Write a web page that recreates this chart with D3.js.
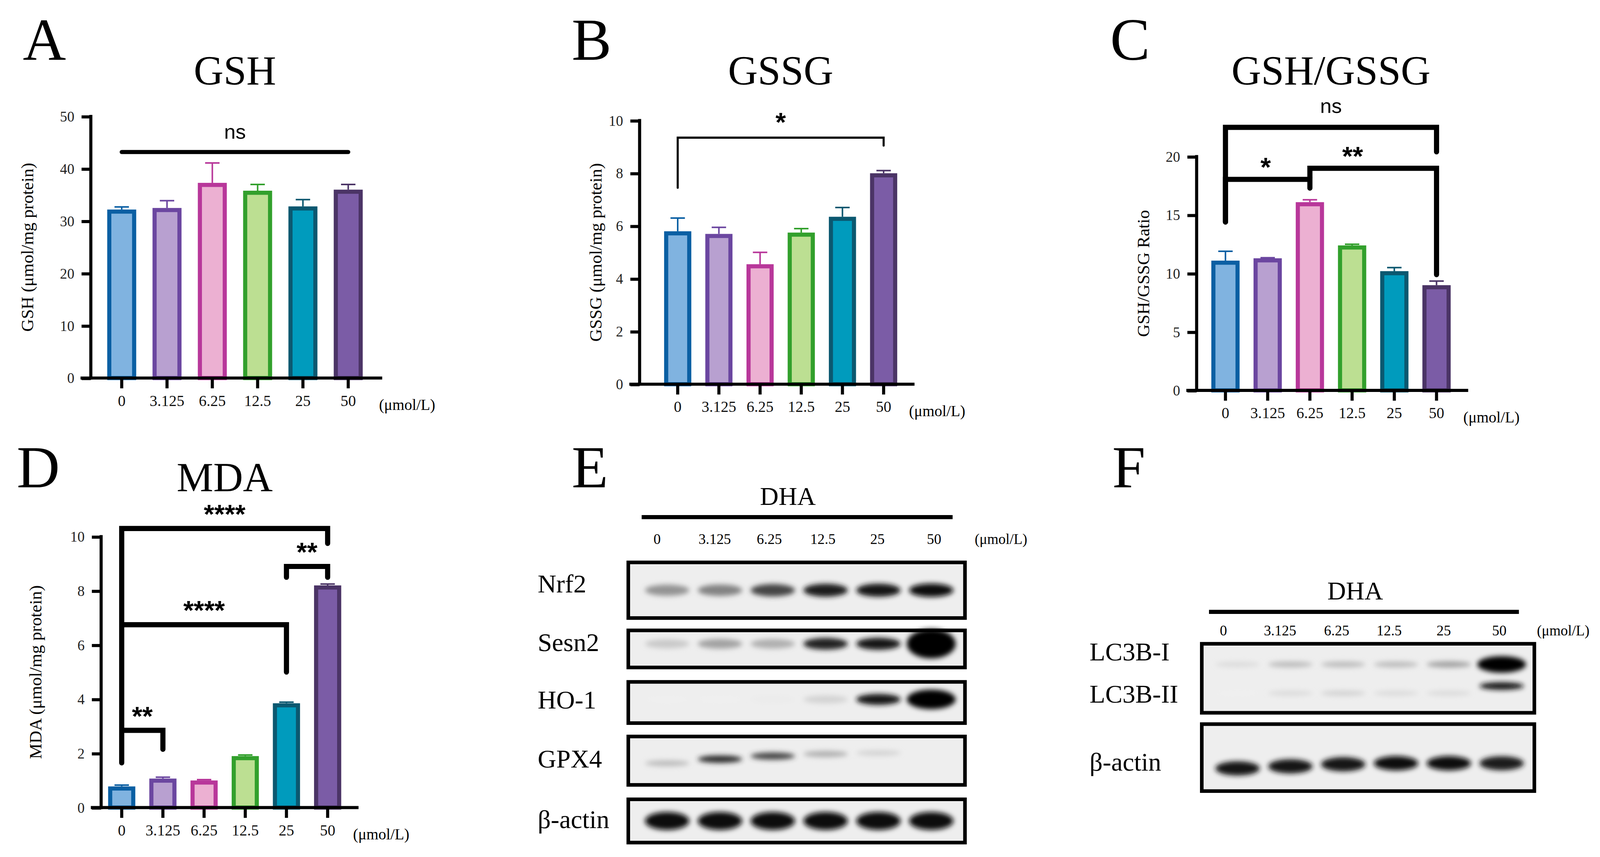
<!DOCTYPE html>
<html><head><meta charset="utf-8">
<script src="https://cdn.jsdelivr.net/npm/d3@7"></script>
<style>body{margin:0;background:#fff}svg{display:block}</style>
</head><body>
<script>
const categories = ["0","3.125","6.25","12.5","25","50"];
const gshValues = [32.2,32.5,37.3,35.8,32.8,36.0];
const gshErr = [0.5,1.4,3.8,1.2,1.3,1.0];
const gssgValues = [5.8,5.7,4.55,5.75,6.35,8.0];
const gssgErr = [0.5,0.25,0.45,0.15,0.35,0.1];
const ratioValues = [11.1,11.3,16.1,12.4,10.2,9.0];
const ratioErr = [0.8,0.05,0.2,0.1,0.3,0.35];
const mdaValues = [0.78,1.07,1.0,1.9,3.85,8.2];
const mdaErr = [0.05,0.05,0.03,0.04,0.04,0.05];
const fills = ["#80b3e0","#b8a0d0","#ecb0d2","#bcdf92","#009bbd","#7b5ca6"];
const strokes = ["#0a5fa3","#6b46a0","#b8379a","#32a02c","#0b5870","#4b3466"];
// blot intensities (0-1) per lane
const nrf2 = [0.6,0.65,0.8,0.9,0.92,0.97];
const sesn2 = [0.4,0.55,0.5,0.88,0.92,1.0];
const ho1 = [0.03,0.04,0.15,0.35,0.92,1.0];
const gpx4 = [0.45,0.85,0.8,0.5,0.35,0.06];
const actinE = [0.97,0.97,0.97,0.97,0.97,0.97];
const lc3I = [0.3,0.45,0.45,0.45,0.55,1.0];
const lc3II = [0.0,0.3,0.35,0.3,0.3,0.92];
const actinF = [0.92,0.92,0.92,0.94,0.94,0.9];

const W=1560,H=832;
const svg=d3.select("body").append("svg").attr("width",4113).attr("height",2193).attr("viewBox",`0 0 ${W} ${H}`);
const defs=svg.append("defs");
defs.append("filter").attr("id","blur").attr("x","-50%").attr("y","-100%").attr("width","200%").attr("height","300%")
  .append("feGaussianBlur").attr("stdDeviation",2.5);
const serif="Liberation Serif, Times New Roman, serif", sans="Liberation Sans, Arial, sans-serif";

function txt(x,y,s,size,fam,anchor){return svg.append("text").attr("x",x).attr("y",y).attr("font-size",size).attr("font-family",fam||serif).attr("text-anchor",anchor||"middle").text(s);}

function barChart(o){
  const x=d3.scaleBand().domain(categories).range([o.x0-o.step/2,o.x0+o.step*5.5]).paddingInner(o.pad).paddingOuter(o.pad/2);
  const y=d3.scaleLinear().domain([0,o.ymax]).range([o.yb,o.yt]);
  const g=svg.append("g");
  categories.forEach((c,i)=>{
    const cx=x(c)+x.bandwidth()/2;
    const top=y(o.vals[i]+o.err[i]);
    g.append("line").attr("x1",cx).attr("x2",cx).attr("y1",y(o.vals[i])).attr("y2",top).attr("stroke",strokes[i]).attr("stroke-width",1.5);
    g.append("line").attr("x1",cx-7).attr("x2",cx+7).attr("y1",top).attr("y2",top).attr("stroke",strokes[i]).attr("stroke-width",1.5);
  });
  g.selectAll("rect.b").data(o.vals).join("rect")
    .attr("x",(d,i)=>x(categories[i])+2).attr("width",x.bandwidth()-4)
    .attr("y",d=>y(d)+2).attr("height",d=>y(0)-y(d)-2)
    .attr("fill",(d,i)=>fills[i]).attr("stroke",(d,i)=>strokes[i]).attr("stroke-width",4);
  const ya=g.append("g").attr("transform",`translate(${o.ax},0)`).call(d3.axisLeft(y).tickValues(d3.range(0,o.ymax+0.001,o.tick)).tickSize(9).tickSizeOuter(0));
  ya.select(".domain").attr("stroke-width",3).attr("d",`M0,${o.yt-1.5}V${o.yb+1.5}`);
  ya.selectAll(".tick line").attr("stroke-width",3);
  ya.selectAll(".tick text").attr("font-family",serif).attr("font-size",14).attr("fill","#222").attr("dx",-4);
  const xa=g.append("g").attr("transform",`translate(0,${o.yb})`).call(d3.axisBottom(x).tickSize(10).tickSizeOuter(0));
  xa.select(".domain").attr("stroke-width",3).attr("d",`M${o.ax-10},0H${o.x0+o.step*5.5+o.step*0.25}`);
  xa.selectAll(".tick line").attr("stroke-width",3);
  xa.selectAll(".tick text").attr("font-family",serif).attr("font-size",15).attr("fill","#111").attr("dy",14);
  txt(o.x0+o.step*6.3,o.yb+31,"(μmol/L)",15,serif,"middle");
  svg.append("text").attr("transform",`translate(${o.lx},${(o.yt+o.yb)/2}) rotate(-90)`).attr("text-anchor","middle")
    .attr("font-family",serif).attr("font-size",17).text(o.ylabel);
  txt(o.x0+o.step*2.5,o.ty,o.title,40);
  txt(o.lettX,o.lettY,o.letter,58,serif,"start");
  (o.brackets||[]).forEach(b=>{
    const x1=x(b[0])+x.bandwidth()/2,x2=x(b[1])+x.bandwidth()/2;
    const by=y(b[2]);
    let d=`M${x1},${b[3]==null?by:y(b[3])}V${by}H${x2}V${b[4]==null?by:y(b[4])}`;
    svg.append("path").attr("d",d).attr("fill","none").attr("stroke","#000").attr("stroke-width",b[6]||5).attr("stroke-linecap","round").attr("stroke-linejoin","miter");
    txt((x1+x2)/2+(b[7]||0),by-(b[8]||8),b[5],b[9]||22,sans,"middle").attr("font-weight",b[5]=="ns"?"normal":"bold");
  });
}

barChart({vals:gshValues,err:gshErr,x0:118,step:44,pad:0.36,yt:113,yb:367,ymax:50,tick:10,ax:88,lx:32,ylabel:"GSH (μmol/mg protein)",title:"GSH",ty:82,letter:"A",lettX:22,lettY:58,
  brackets:[["0","50",43.2,null,null,"ns",4,0,13,20]]});
barChart({vals:gssgValues,err:gssgErr,x0:658,step:40,pad:0.34,yt:117,yb:373,ymax:10,tick:2,ax:621,lx:584,ylabel:"GSSG (μmol/mg protein)",title:"GSSG",ty:82,letter:"B",lettX:555,lettY:58,
  brackets:[["0","50",9.35,7.45,9.05,"*",2,0,6,26]]});
barChart({vals:ratioValues,err:ratioErr,x0:1190,step:41,pad:0.33,yt:152,yb:379,ymax:20,tick:5,ax:1162,lx:1116,ylabel:"GSH/GSSG Ratio",title:"GSH/GSSG",ty:82,letter:"C",lettX:1078,lettY:58,
  brackets:[["0","50",22.5,14.4,20.4,"ns",5,0,14,20],
            ["6.25","50",19.0,18.2,9.9,"**",5,-20,3,26],
            ["0","6.25",18.05,14.4,17.3,"*",5,-2,3,26]]});
barChart({vals:mdaValues,err:mdaErr,x0:118,step:40,pad:0.34,yt:521,yb:784,ymax:10,tick:2,ax:98,lx:40,ylabel:"MDA (μmol/mg protein)",title:"MDA",ty:477,letter:"D",lettX:16,lettY:473,
  brackets:[["0","50",10.3,1.65,9.75,"****",5,0,5,26],
            ["25","50",8.9,8.5,8.5,"**",5,0,5,26],
            ["0","25",6.75,6.75,5.0,"****",5,0,5,26],
            ["0","3.125",2.85,null,2.15,"**",5,0,5,26]]});

// Western blots
function blotPanel(o){
  const lane=d3.scaleBand().domain(categories).range([o.lx0,o.lx1]).padding(0.16);
  txt(o.dhaX,o.dhaY,"DHA",25);
  svg.append("line").attr("x1",o.lineX0).attr("x2",o.lineX1).attr("y1",o.lineY).attr("y2",o.lineY).attr("stroke","#000").attr("stroke-width",4);
  categories.forEach((c,i)=>txt(o.labX[i],o.labY,c,14));
  txt(o.unitX,o.labY,"(μmol/L)",14);
  o.rows.forEach(r=>{
    svg.append("rect").attr("x",o.bx0).attr("y",r.y0).attr("width",o.bx1-o.bx0).attr("height",r.y1-r.y0).attr("fill","#eeeeee").attr("stroke","#000").attr("stroke-width",3.5);
    r.bands.forEach(b=>{
      const bg=svg.append("g").attr("filter","url(#blur)");
      bg.selectAll("ellipse").data(b.vals).join("ellipse")
        .attr("cx",(d,i)=>lane(categories[i])+lane.bandwidth()/2)
        .attr("cy",(d,i)=>b.cy+(b.tilt?b.tilt[i]:0))
        .attr("rx",d=>lane.bandwidth()/2*(b.big&&d>0.98?1.1:1))
        .attr("ry",d=>b.h*(b.big&&d>0.98?b.big:(0.6+0.5*d)))
        .attr("fill",d=>d3.interpolateGreys(0.05+0.95*d)).attr("opacity",d=>Math.min(1,0.15+d));
    });
    r.labels.forEach(l=>txt(o.labelX,l[1],l[0],25,serif,"start"));
  });
}
blotPanel({lx0:618,lx1:934,dhaX:765,dhaY:490,lineX0:623,lineX1:925,lineY:502,labX:[638,694,747,799,852,907],labY:528,unitX:972,bx0:610,bx1:937,labelX:522,
  rows:[{y0:546,y1:600,bands:[{vals:nrf2,cy:573,h:6}],labels:[["Nrf2",575]]},
        {y0:612,y1:648,bands:[{vals:sesn2,cy:625,h:5.5,big:2.6}],labels:[["Sesn2",632]]},
        {y0:662,y1:702,bands:[{vals:ho1,cy:679,h:5,big:1.9}],labels:[["HO-1",688]]},
        {y0:715,y1:762,bands:[{vals:gpx4,cy:741,h:3.5,tilt:[0,-4,-7,-9,-10,-10]}],labels:[["GPX4",745]]},
        {y0:776,y1:818,bands:[{vals:actinE,cy:797,h:8}],labels:[["β-actin",804]]}]});
blotPanel({lx0:1172,lx1:1488,dhaX:1316,dhaY:582,lineX0:1174,lineX1:1475,lineY:594,labX:[1188,1243,1298,1349,1402,1456],labY:617,unitX:1518,bx0:1167,bx1:1490,labelX:1058,
  rows:[{y0:625,y1:692,bands:[{vals:lc3I,cy:645,h:3.5,big:2.3},{vals:lc3II,cy:673,h:3.5,tilt:[0,0,0,0,0,-7]}],labels:[["LC3B-I",641],["LC3B-II",682]]},
        {y0:703,y1:768,bands:[{vals:actinF,cy:741,h:6.5,tilt:[5,3,1,0,0,0]}],labels:[["β-actin",748]]}]});
txt(555,473,"E",58,serif,"start");
txt(1080,473,"F",58,serif,"start");
</script>
</body></html>
